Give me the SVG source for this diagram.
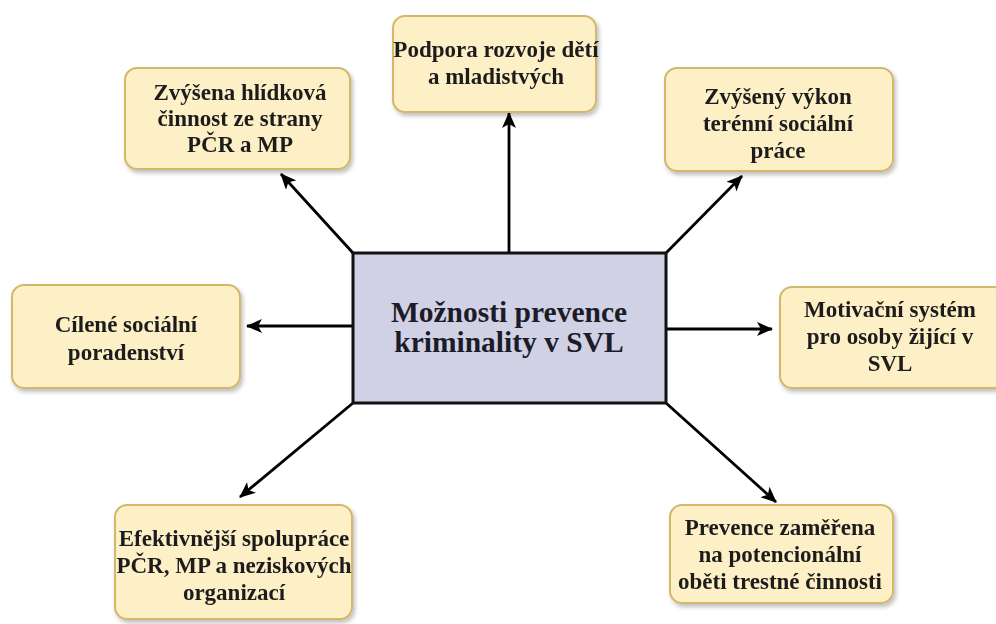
<svg xmlns="http://www.w3.org/2000/svg" width="996" height="624" viewBox="0 0 996 624">
<defs>
<style>
.box{fill:#fdefc6;stroke:#d2b868;stroke-width:2;}
.t{font-family:"Liberation Serif","Times New Roman",serif;font-weight:bold;font-size:23px;fill:#1e1e1e;text-anchor:middle;}
.tc{font-size:29.5px;fill:#1c1c28;}
.c{stroke:#000;stroke-width:2.8;fill:none;marker-end:url(#ah);}
</style>
<marker id="ah" viewBox="0 0 16 14" refX="15" refY="7" markerWidth="16" markerHeight="14" markerUnits="userSpaceOnUse" orient="auto">
<path d="M0,0 L16,7 L0,14 L4,7 Z" fill="#000"/>
</marker>
<filter id="sh" x="-10%" y="-10%" width="125%" height="130%">
<feDropShadow dx="2" dy="3" stdDeviation="2" flood-color="#000" flood-opacity="0.25"/>
</filter>
</defs>
<rect width="996" height="624" fill="#fff"/>
<g id="connectors">
<line class="c" x1="509" y1="253" x2="509" y2="113"/>
<line class="c" x1="353" y1="253" x2="281" y2="174"/>
<line class="c" x1="666" y1="253" x2="742" y2="176"/>
<line class="c" x1="353" y1="326" x2="247" y2="326"/>
<line class="c" x1="666" y1="329" x2="772" y2="329"/>
<line class="c" x1="353" y1="403" x2="240" y2="497"/>
<line class="c" x1="666" y1="403" x2="776" y2="502"/>
</g>
<g id="center">
<rect x="353" y="253" width="313" height="150" fill="#d1d1e6" stroke="#111" stroke-width="3"/>
<text class="t tc" x="509" y="322">Možnosti prevence</text>
<text class="t tc" x="509" y="352">kriminality v SVL</text>
</g>
<g id="n1" filter="url(#sh)">
<rect class="box" x="125" y="68" width="225" height="101" rx="12"/>
<text class="t" x="240" y="100">Zvýšena hlídková</text>
<text class="t" x="240" y="126">činnost ze strany</text>
<text class="t" x="240" y="152">PČR a MP</text>
</g>
<g id="n2" filter="url(#sh)">
<rect class="box" x="393" y="16" width="203" height="96" rx="12"/>
<text class="t" x="496" y="57">Podpora rozvoje dětí</text>
<text class="t" x="496" y="84">a mladistvých</text>
</g>
<g id="n3" filter="url(#sh)">
<rect class="box" x="665" y="68" width="228" height="103" rx="12"/>
<text class="t" x="778" y="104">Zvýšený výkon</text>
<text class="t" x="778" y="131">terénní sociální</text>
<text class="t" x="778" y="158">práce</text>
</g>
<g id="n4" filter="url(#sh)">
<rect class="box" x="12" y="285" width="228" height="103" rx="12"/>
<text class="t" x="126" y="332">Cílené sociální</text>
<text class="t" x="126" y="360">poradenství</text>
</g>
<g id="n5" filter="url(#sh)">
<rect class="box" x="780" y="287" width="226" height="101" rx="12"/>
<text class="t" x="890" y="317">Motivační systém</text>
<text class="t" x="890" y="344">pro osoby žijící v</text>
<text class="t" x="890" y="371">SVL</text>
</g>
<g id="n6" filter="url(#sh)">
<rect class="box" x="115" y="505" width="237" height="114" rx="12"/>
<text class="t" x="234" y="546">Efektivnější spolupráce</text>
<text class="t" x="234" y="573">PČR, MP a neziskových</text>
<text class="t" x="234" y="600">organizací</text>
</g>
<g id="n7" filter="url(#sh)">
<rect class="box" x="670" y="505" width="223" height="98" rx="12"/>
<text class="t" x="780" y="535">Prevence zaměřena</text>
<text class="t" x="780" y="562">na potencionální</text>
<text class="t" x="780" y="589">oběti trestné činnosti</text>
</g>
</svg>
